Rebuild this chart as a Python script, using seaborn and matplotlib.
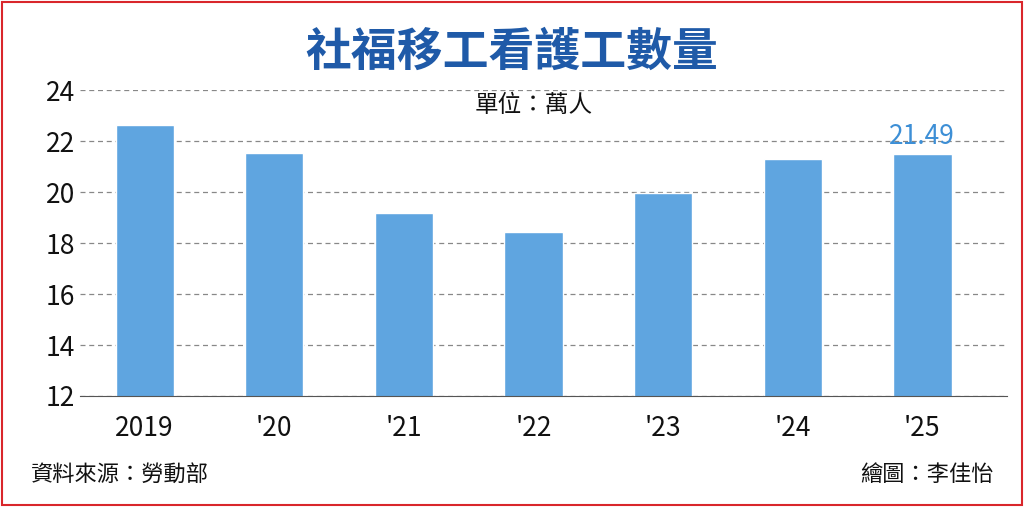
import matplotlib
matplotlib.use("Agg")
import matplotlib.pyplot as plt
import seaborn as sns
import pandas as pd
from matplotlib.patches import Rectangle

years = ["2019", "'20", "'21", "'22", "'23", "'24", "'25"]
values = [22.63, 21.53, 19.18, 18.43, 19.96, 21.29, 21.49]
yticks = [12, 14, 16, 18, 20, 22, 24]

sns.set_style("white")
plt.rcParams['font.family'] = ['Noto Sans CJK TC', 'DejaVu Sans']

fig = plt.figure(figsize=(10.24, 5.07), dpi=100)
ax = fig.add_axes([0.078, 0.219, 0.905, 0.603])
df = pd.DataFrame({"year": years, "value": values})
sns.barplot(data=df, x="year", y="value", color="#5fa5e0", saturation=1, width=0.45, ax=ax)
ax.set_ylim(12, 24)
ax.set_yticks(yticks)
ax.set_xlim(-0.5, 6.65)
ax.set_xlabel("")
ax.set_ylabel("")
ax.yaxis.grid(True, linestyle=(0, (4, 3)), color="#888888", linewidth=0.9)
ax.set_axisbelow(True)
for s in ["top", "right", "left"]:
    ax.spines[s].set_visible(False)
ax.spines["bottom"].set_color("#555555")
ax.tick_params(axis="both", labelsize=19, length=0, colors="#111111")
ax.tick_params(axis="x", pad=14)
ax.text(6, values[-1] + 0.15, f"{values[-1]:.2f}", ha="center", va="bottom", fontsize=19, color="#3d8fd6")
ax.text(3, 23.4, "單位：萬人", ha="center", va="center", fontsize=17, color="#111111")

fig.text(0.5, 0.895, "社福移工看護工數量", ha="center", va="center", fontsize=33, fontweight="bold", color="#1f5aa8")
fig.text(0.03, 0.065, "資料來源：勞動部", ha="left", va="center", fontsize=16, color="#111111")
fig.text(0.97, 0.065, "繪圖：李佳怡", ha="right", va="center", fontsize=16, color="#111111")
fig.patches.append(Rectangle((0.002, 0.003), 0.996, 0.994, transform=fig.transFigure, fill=False, edgecolor="#d9262b", linewidth=1.5))
fig.savefig("out.png", dpi=100)
